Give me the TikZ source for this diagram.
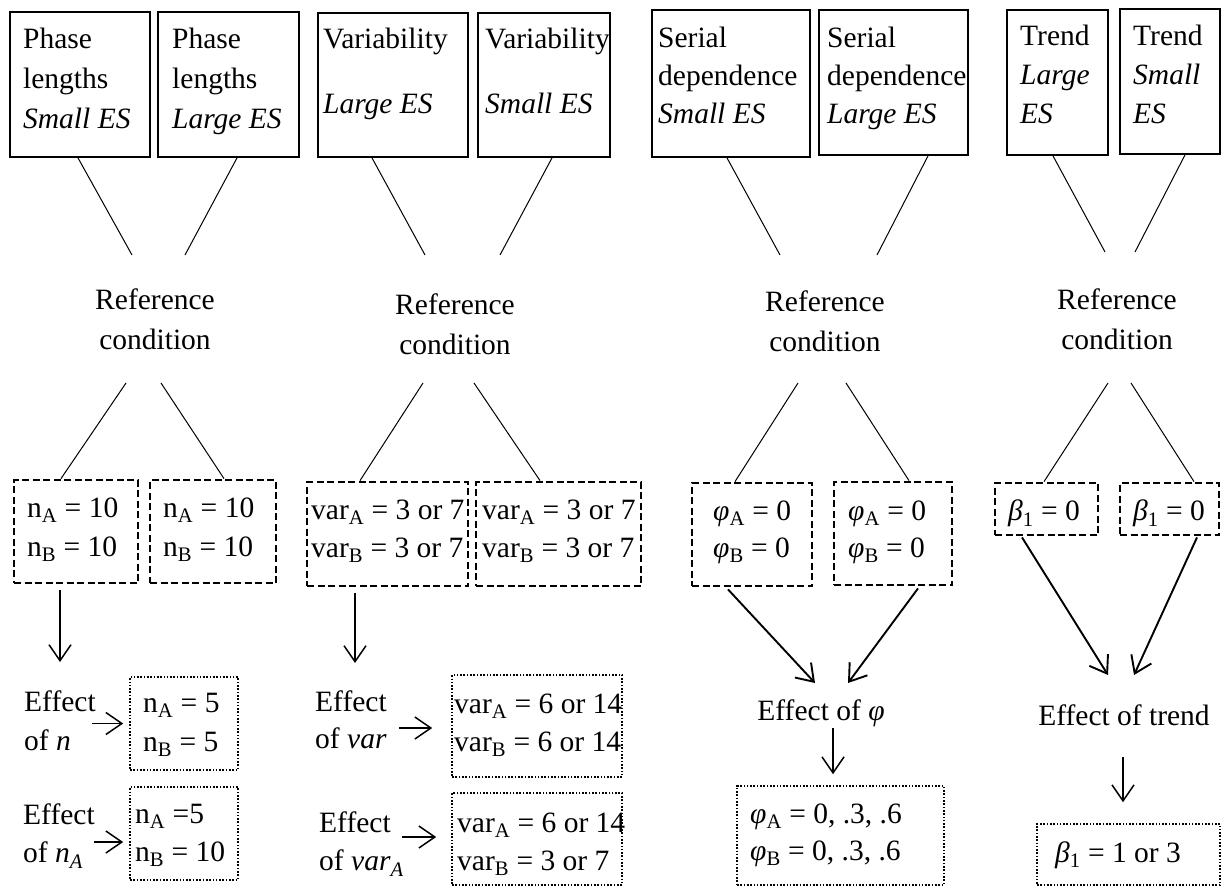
\documentclass[tikz,border=0pt]{standalone}
\usepackage{fontspec}
\setmainfont{Liberation Serif}
\usepackage{tikz}
\usetikzlibrary{calc,arrows.meta,positioning}
\tikzset{
  FactorBox/.style={draw, line width=1.8pt, inner sep=0pt},
  RefBox/.style={draw, line width=2.8pt, dash pattern=on 7pt off 3.5pt, inner sep=0pt},
  EffectBox/.style={draw, line width=1.6pt, dash pattern=on 1.6pt off 1.7pt, inner sep=0pt},
  BoxText/.style={anchor=north west, inner sep=0pt, align=left,
    font=\fontsize{29.5}{40}\selectfont},
  MidText/.style={inner sep=0pt, align=center, font=\fontsize{29.5}{40}\selectfont},
  Link/.style={line width=1pt},
  Arrow/.style={line width=1.5pt, -{Straight Barb[length=16pt,width=22pt]}}
}
\newcommand{\sub}[1]{\textsubscript{#1}}

\begin{document}
\begin{tikzpicture}[x=1pt, y=-1pt]
  \useasboundingbox (0,0) rectangle (1222,888);

  % factor boxes
  \node[FactorBox, minimum width=140pt, minimum height=145pt] (pl1) at (80,84.5) {};
  \node[FactorBox, minimum width=141pt, minimum height=145pt] (pl2) at (228.5,84.5) {};
  \node[FactorBox, minimum width=150pt, minimum height=144pt] (va1) at (393,85) {};
  \node[FactorBox, minimum width=132pt, minimum height=144pt] (va2) at (544,85) {};
  \node[FactorBox, minimum width=158pt, minimum height=147pt] (sd1) at (731,83.5) {};
  \node[FactorBox, minimum width=149pt, minimum height=145pt] (sd2) at (893.5,82.5) {};
  \node[FactorBox, minimum width=101pt, minimum height=145pt] (tr1) at (1057.5,82.5) {};
  \node[FactorBox, minimum width=100pt, minimum height=145pt] (tr2) at (1170,81.5) {};

  \node[BoxText] (pl1t) at (23,28) {Phase\\lengths\\\textit{Small ES}};
  \node[BoxText] (pl2t) at (172,28) {Phase\\lengths\\\textit{Large ES}};
  \node[BoxText] (va1t) at (323,28) {Variability\\[25pt]\textit{Large ES}};
  \node[BoxText] (va2t) at (485,28) {Variability\\[25pt]\textit{Small ES}};
  \node[BoxText] (sd1t) at (658,27) {Serial\\[-2pt]dependence\\[-2pt]\textit{Small ES}};
  \node[BoxText] (sd2t) at (827,27) {Serial\\[-2pt]dependence\\[-2pt]\textit{Large ES}};
  \node[BoxText] (tr1t) at (1020,25) {Trend\\[-1pt]\textit{Large}\\[-1pt]\textit{ES}};
  \node[BoxText] (tr2t) at (1133,25) {Trend\\[-1pt]\textit{Small}\\[-1pt]\textit{ES}};

  % reference conditions
  \node[MidText, anchor=north] (ref1) at (155,289) {Reference\\condition};
  \node[MidText, anchor=north] (ref2) at (455,294) {Reference\\condition};
  \node[MidText, anchor=north] (ref3) at (825,291) {Reference\\condition};
  \node[MidText, anchor=north] (ref4) at (1117,289) {Reference\\condition};

  \coordinate (r1a) at (132,255);  \coordinate (r1b) at (185,255);
  \coordinate (r2a) at (425,255);  \coordinate (r2b) at (500,255);
  \coordinate (r3a) at (780,255);  \coordinate (r3b) at (877,255);
  \coordinate (r4a) at (1105,252); \coordinate (r4b) at (1135,252);
  \coordinate (r1c) at (126,383);  \coordinate (r1d) at (161,383);
  \coordinate (r2c) at (423,383);  \coordinate (r2d) at (474,383);
  \coordinate (r3c) at (798,383);  \coordinate (r3d) at (846,383);
  \coordinate (r4c) at (1108,383); \coordinate (r4d) at (1131,383);

  \draw[Link] ($(pl1.south)+(-2,0)$) -- (r1a);
  \draw[Link] ($(pl2.south)+(8.5,0)$) -- (r1b);
  \draw[Link] ($(va1.south)+(-21,0)$) -- (r2a);
  \draw[Link] ($(va2.south)+(8,0)$) -- (r2b);
  \draw[Link] ($(sd1.south)+(-4,0)$) -- (r3a);
  \draw[Link] ($(sd2.south)+(34.5,0)$) -- (r3b);
  \draw[Link] ($(tr1.south)+(-4.5,0)$) -- (r4a);
  \draw[Link] ($(tr2.south)+(15,0)$) -- (r4b);

  % baseline values
  \node[RefBox, minimum width=124pt, minimum height=103pt] (na1) at (76,531.5) {};
  \node[RefBox, minimum width=126pt, minimum height=103pt] (na2) at (213,531.5) {};
  \node[RefBox, minimum width=161pt, minimum height=104pt] (vr1) at (387.5,534) {};
  \node[RefBox, minimum width=165pt, minimum height=104pt] (vr2) at (558.5,534) {};
  \node[RefBox, minimum width=120pt, minimum height=103pt] (ph1) at (752,534.5) {};
  \node[RefBox, minimum width=118pt, minimum height=103pt] (ph2) at (893,533.5) {};
  \node[RefBox, minimum width=103pt, minimum height=52pt] (bt1) at (1046.5,509) {};
  \node[RefBox, minimum width=99pt, minimum height=52pt] (bt2) at (1169.5,509) {};

  \node[BoxText] (na1t) at (27,498) {n\sub{A} = 10\\[-1pt]n\sub{B} = 10};
  \node[BoxText] (na2t) at (163,498) {n\sub{A} = 10\\[-1pt]n\sub{B} = 10};
  \node[BoxText] (vr1t) at (311,500) {var\sub{A} = 3 or 7\\[-2pt]var\sub{B} = 3 or 7};
  \node[BoxText] (vr2t) at (482,500) {var\sub{A} = 3 or 7\\[-2pt]var\sub{B} = 3 or 7};
  \node[BoxText] (ph1t) at (713,501) {\textit{φ}\sub{A} = 0\\[-3pt]\textit{φ}\sub{B} = 0};
  \node[BoxText] (ph2t) at (848,501) {\textit{φ}\sub{A} = 0\\[-3pt]\textit{φ}\sub{B} = 0};
  \node[BoxText] (bt1t) at (1008,500) {\textit{β}\sub{1} = 0};
  \node[BoxText] (bt2t) at (1133,500) {\textit{β}\sub{1} = 0};

  \draw[Link] (r1c) -- ($(na1.north)+(-15,0)$);
  \draw[Link] (r1d) -- ($(na2.north)+(11,0)$);
  \draw[Link] (r2c) -- ($(vr1.north)+(-27.5,0)$);
  \draw[Link] (r2d) -- ($(vr2.north)+(-18.5,0)$);
  \draw[Link] (r3c) -- ($(ph1.north)+(-17,0)$);
  \draw[Link] (r3d) -- ($(ph2.north)+(16,0)$);
  \draw[Link] (r4c) -- ($(bt1.north)+(-2.5,0)$);
  \draw[Link] (r4d) -- ($(bt2.north)+(24.5,0)$);

  % effects: phase lengths
  \coordinate (d1) at (60,662);
  \draw[Arrow] ($(na1.south)+(-16,6)$) -- (d1);
  \node[EffectBox, minimum width=108pt, minimum height=93pt] (en1) at (184,723.5) {};
  \node[EffectBox, minimum width=108pt, minimum height=93pt] (en2) at (184,833.5) {};
  \node[BoxText] (eff1) at (24,691) {Effect\\[-1pt]of \textit{n}};
  \node[BoxText] (eff2) at (23,804) {Effect\\[-2pt]of \textit{n}\sub{\textit{A}}};
  \node[BoxText] (en1t) at (143,693) {n\sub{A} = 5\\[-1pt]n\sub{B} = 5};
  \node[BoxText] (en2t) at (135,804) {n\sub{A} =5\\[-2pt]n\sub{B} = 10};
  \draw[Arrow] ($(en1.west)+(-37,0)$) -- ($(en1.west)+(-6,0)$);
  \draw[Arrow] ($(en2.west)+(-35,8.5)$) -- ($(en2.west)+(-6,8.5)$);

  % effects: variability
  \coordinate (d2) at (355,663);
  \draw[Arrow] ($(vr1.south)+(-32.5,6)$) -- (d2);
  \node[EffectBox, minimum width=170pt, minimum height=102pt] (ev1) at (537,726) {};
  \node[EffectBox, minimum width=170pt, minimum height=92pt] (ev2) at (537,839) {};
  \node[BoxText] (effv1) at (315,691) {Effect\\[-3pt]of \textit{var}};
  \node[BoxText] (effv2) at (319,812) {Effect\\[-2pt]of \textit{var}\sub{\textit{A}}};
  \node[BoxText] (ev1t) at (454,694) {var\sub{A} = 6 or 14\\[-2pt]var\sub{B} = 6 or 14};
  \node[BoxText] (ev2t) at (457,813) {var\sub{A} = 6 or 14\\[-2pt]var\sub{B} = 3 or 7};
  \draw[Arrow] ($(ev1.west)+(-52,2)$) -- ($(ev1.west)+(-19,2)$);
  \draw[Arrow] ($(ev2.west)+(-49,-2)$) -- ($(ev2.west)+(-15,-2)$);

  % effects: serial dependence
  \coordinate (p1) at (815,683);
  \coordinate (p2) at (848,683);
  \draw[Arrow, line width=1.9pt] ($(ph1.south)+(-24,2)$) -- (p1);
  \draw[Arrow, line width=1.9pt] ($(ph2.south)+(25,2)$) -- (p2);
  \node[MidText, anchor=base] (efp) at (821,720) {Effect of \textit{φ}};
  \node[EffectBox, minimum width=207pt, minimum height=99pt] (ep) at (840.5,835.5) {};
  \node[BoxText] (ept) at (750,804) {\textit{φ}\sub{A} = 0, .3, .6\\[-3pt]\textit{φ}\sub{B} = 0, .3, .6};
  \draw[Arrow] ($(efp.south)+(12,2)$) -- ($(ep.north)+(-7.5,-11)$);

  % effects: trend
  \coordinate (t1) at (1108,675);
  \coordinate (t2) at (1134,675);
  \draw[Arrow, line width=1.9pt] ($(bt1.south)+(-24.5,1)$) -- (t1);
  \draw[Arrow, line width=1.9pt] ($(bt2.south)+(27.5,1)$) -- (t2);
  \node[MidText, anchor=base] (efr) at (1124,725) {Effect of trend};
  \node[EffectBox, minimum width=183pt, minimum height=61pt] (et) at (1128.5,854.5) {};
  \node[MidText, anchor=base west] (ett) at (1055,862) {\textit{β}\sub{1} = 1 or 3};
  \draw[Arrow] ($(efr.south)+(-1,32)$) -- ($(et.north)+(-5.5,-21)$);
\end{tikzpicture}
\end{document}
